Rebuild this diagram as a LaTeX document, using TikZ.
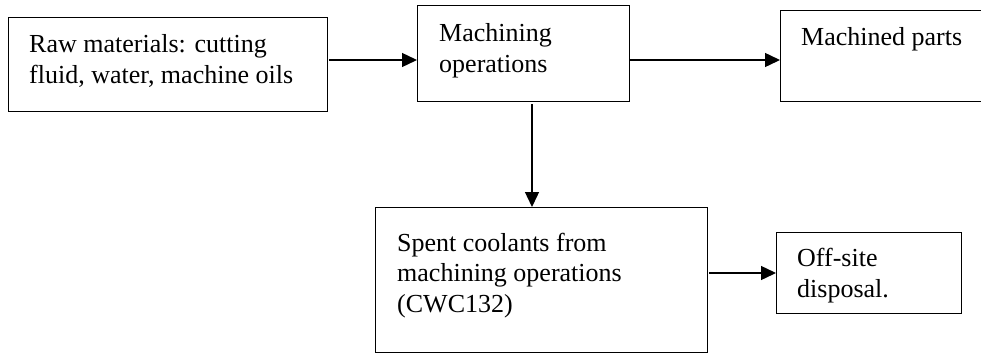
\documentclass[tikz,border=0pt]{standalone}
\usepackage{fontspec}
\setmainfont{Liberation Serif}
\usetikzlibrary{arrows.meta}
\begin{document}
\begin{tikzpicture}[x=1pt,y=-1pt,
  boxline/.style={draw=black,line width=1.4pt},
  txt/.style={anchor=base west,inner sep=0pt,align=left,font=\fontsize{26}{30.5}\selectfont},
  flow/.style={draw=black,line width=1.4pt,-{Triangle[length=15pt,width=14pt]}}]
\useasboundingbox (0,0) rectangle (981,356);
\clip (0,0) rectangle (981,356);
\fill[white] (0,0) rectangle (981,356);
% boxes
\node[boxline,anchor=north west,minimum width=319pt,minimum height=94pt,inner sep=0pt] (raw) at (8,17) {};
\node[boxline,anchor=north west,minimum width=212pt,minimum height=96pt,inner sep=0pt] (mach) at (417,5) {};
\node[boxline,anchor=north west,minimum width=215pt,minimum height=91pt,inner sep=0pt] (parts) at (780,10) {};
\node[boxline,anchor=north west,minimum width=332pt,minimum height=145pt,inner sep=0pt] (spent) at (375,207) {};
\node[boxline,anchor=north west,minimum width=185pt,minimum height=81pt,inner sep=0pt] (off) at (776,232) {};
% texts (anchor = baseline of last line)
\node[txt] (rawt) at (29,83) {Raw materials: cutting\\fluid, water, machine oils};
\node[txt] (macht) at (439,72) {Machining\\operations};
\node[txt] (partst) at (801,45) {Machined parts};
\node[txt] (spentt) at (397,312) {Spent coolants from\\machining operations\\(CWC132)};
\node[txt] (offt) at (797,297) {Off-site\\disposal.};
% connectors
\coordinate (a1) at (329,60);
\coordinate (a2) at (630,60);
\coordinate (a3) at (532,104);
\coordinate (a4) at (709,273);
\draw[flow] (a1) -- (a1 -| mach.west);
\draw[flow] (a2) -- (a2 -| parts.west);
\draw[flow] (a3) -- (a3 |- spent.north);
\draw[flow] (a4) -- (a4 -| off.west);
\end{tikzpicture}
\end{document}
